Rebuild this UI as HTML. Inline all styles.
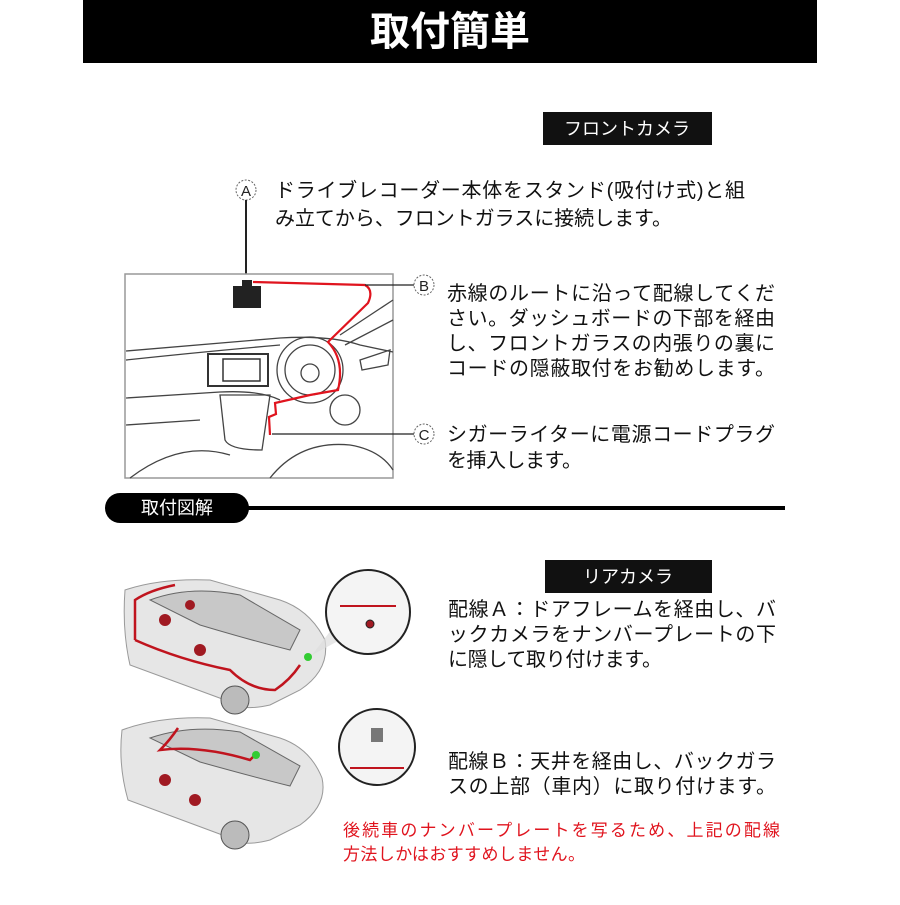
<!DOCTYPE html>
<html><head><meta charset="utf-8"><style>
body{margin:0;width:900px;height:900px;background:#fff;overflow:hidden;font-family:"Liberation Sans","Noto Sans CJK JP",sans-serif;}
</style></head><body>
<svg width="900" height="900" viewBox="0 0 900 900" xmlns="http://www.w3.org/2000/svg" style="font-family:'Liberation Sans','Noto Sans CJK JP',sans-serif">
<rect x="83" y="0" width="734" height="63" fill="#000"/>
<text x="450" y="45" fill="#fff" font-size="40" font-weight="bold" text-anchor="middle">取付簡単</text>

<rect x="543" y="112" width="169" height="33" fill="#111"/>
<text x="627" y="135" fill="#fff" font-size="18" text-anchor="middle">フロントカメラ</text>

<circle cx="246" cy="190" r="10" fill="#fff" stroke="#666" stroke-dasharray="2 1.5"/>
<text x="246" y="196" font-size="15" text-anchor="middle" fill="#222">A</text>
<line x1="246" y1="200" x2="246" y2="282" stroke="#222" stroke-width="2"/>
<g font-size="20" fill="#111" lengthAdjust="spacing">
<text x="275" y="197" textLength="470">ドライブレコーダー本体をスタンド(吸付け式)と組</text>
<text x="275" y="225" textLength="397">み立てから、フロントガラスに接続します。</text>
<text x="447" y="300" textLength="328">赤線のルートに沿って配線してくだ</text>
<text x="447" y="325" textLength="328">さい。ダッシュボードの下部を経由</text>
<text x="447" y="350" textLength="328">し、フロントガラスの内張りの裏に</text>
<text x="447" y="375" textLength="328">コードの隠蔽取付をお勧めします。</text>
<text x="447" y="441" textLength="328">シガーライターに電源コードプラグ</text>
<text x="447" y="467" textLength="135">を挿入します。</text>
</g>

<rect x="125" y="274" width="268" height="204" fill="#fff" stroke="#999" stroke-width="1.5"/>
<g fill="none" stroke="#444" stroke-width="1.3">
<path d="M126 351 Q200 345 280 338 Q330 335 360 345 L393 352"/>
<path d="M126 360 Q200 352 280 345"/>
<path d="M126 398 L220 392 Q260 390 280 400"/>
<path d="M126 425 L200 420"/>
<circle cx="310" cy="370" r="33"/>
<circle cx="310" cy="370" r="25"/>
<circle cx="310" cy="373" r="9"/>
<path d="M220 395 L225 440 Q230 450 262 450 L270 395 Z"/>
<path d="M130 478 Q180 440 230 455 M270 478 Q300 440 350 445 Q380 450 393 470"/>
<path d="M340 335 L393 300 M345 345 L393 320"/>
<circle cx="345" cy="410" r="15"/>
<path d="M360 360 L390 350 L388 365 L362 370 Z"/>
</g>
<rect x="208" y="354" width="60" height="32" fill="none" stroke="#333" stroke-width="2"/>
<rect x="223" y="359" width="37" height="22" fill="none" stroke="#333" stroke-width="1.5"/>
<rect x="233" y="286" width="28" height="22" fill="#222"/>
<rect x="242" y="280" width="10" height="6" fill="#222"/>
<path d="M253 282 L365 285 Q374 290 368 303 L328 342 Q345 360 338 390 L310 395 L275 403 L276 414 L269 417 L270 435" fill="none" stroke="#e0141e" stroke-width="2.2"/>
<line x1="365" y1="285" x2="414" y2="285" stroke="#222" stroke-width="1.2"/>
<line x1="272" y1="434" x2="414" y2="434" stroke="#222" stroke-width="1.2"/>
<circle cx="424" cy="285" r="10" fill="#fff" stroke="#666" stroke-dasharray="2 1.5"/>
<text x="424" y="291" font-size="15" text-anchor="middle" fill="#222">B</text>
<circle cx="424" cy="434" r="10" fill="#fff" stroke="#666" stroke-dasharray="2 1.5"/>
<text x="424" y="440" font-size="15" text-anchor="middle" fill="#222">C</text>

<line x1="240" y1="508" x2="785" y2="508" stroke="#000" stroke-width="4"/>
<rect x="105" y="493" width="144" height="30" rx="15" fill="#000"/>
<text x="177" y="514" fill="#fff" font-size="18" text-anchor="middle">取付図解</text>

<rect x="545" y="560" width="167" height="33" fill="#111"/>
<text x="628" y="583" fill="#fff" font-size="18" text-anchor="middle">リアカメラ</text>

<g>
<path d="M125 590 Q160 578 210 580 L280 600 Q310 610 325 640 Q330 670 300 690 L270 705 Q240 712 225 700 L130 665 Q122 630 125 590 Z" fill="#e6e6e6" stroke="#999"/>
<path d="M150 600 Q190 585 240 595 L300 630 L290 650 Q250 640 200 625 Z" fill="#c8c8c8" stroke="#666"/>
<path d="M135 640 L135 600 Q150 590 175 585 M135 640 Q180 660 230 670 Q250 690 275 690 Q290 680 300 665" fill="none" stroke="#c0141e" stroke-width="2.5"/>
<circle cx="165" cy="620" r="6" fill="#a01a22"/><circle cx="200" cy="650" r="6" fill="#a01a22"/><circle cx="190" cy="605" r="5" fill="#a01a22"/>
<circle cx="235" cy="700" r="14" fill="#bbb" stroke="#555"/>
<circle cx="308" cy="657" r="4" fill="#3c3"/>
<path d="M312 655 L335 625 L340 640 Z" fill="#ddd" opacity=".7"/>
</g>
<circle cx="368" cy="612" r="42" fill="#f4f4f4" stroke="#222" stroke-width="2"/>
<line x1="340" y1="606" x2="396" y2="606" stroke="#c0141e" stroke-width="2"/>
<circle cx="370" cy="624" r="4" fill="#a01a22" stroke="#222"/>
<g>
<path d="M122 730 Q160 716 210 718 L280 738 Q310 748 322 778 Q328 805 300 825 L270 840 Q240 848 225 836 L128 800 Q118 765 122 730 Z" fill="#e6e6e6" stroke="#999"/>
<path d="M150 738 Q190 724 240 732 L300 766 L290 786 Q250 776 200 762 Z" fill="#c8c8c8" stroke="#666"/>
<path d="M178 728 Q170 740 160 750 Q200 745 250 760 L258 752" fill="none" stroke="#c0141e" stroke-width="2.5"/>
<circle cx="165" cy="780" r="6" fill="#a01a22"/><circle cx="195" cy="800" r="6" fill="#a01a22"/>
<circle cx="235" cy="835" r="14" fill="#bbb" stroke="#555"/>
<circle cx="256" cy="755" r="4" fill="#3c3"/>
</g>
<circle cx="377" cy="747" r="38" fill="#f4f4f4" stroke="#222" stroke-width="2"/>
<rect x="371" y="728" width="12" height="14" fill="#777"/>
<line x1="350" y1="768" x2="404" y2="768" stroke="#c0141e" stroke-width="2"/>

<g font-size="20" fill="#111" lengthAdjust="spacing">
<text x="448" y="616" textLength="328">配線Ａ：ドアフレームを経由し、バ</text>
<text x="448" y="641" textLength="328">ックカメラをナンバープレートの下</text>
<text x="448" y="666" textLength="214">に隠して取り付けます。</text>
<text x="448" y="768" textLength="328">配線Ｂ：天井を経由し、バックガラ</text>
<text x="448" y="793" textLength="328">スの上部（車内）に取り付けます。</text>
</g>
<g font-size="17" fill="#e0141e" lengthAdjust="spacing">
<text x="343" y="836" textLength="437">後続車のナンバープレートを写るため、上記の配線</text>
<text x="343" y="860" textLength="242">方法しかはおすすめしません。</text>
</g>
</svg>
</body></html>
